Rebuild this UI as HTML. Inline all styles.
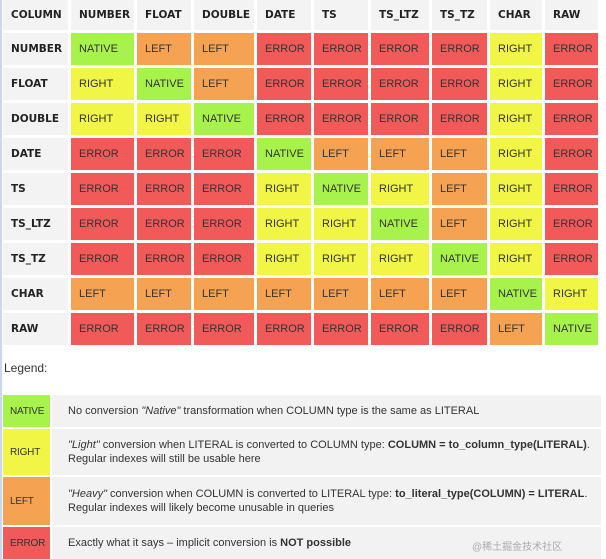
<!DOCTYPE html>
<html><head><meta charset="utf-8"><style>
body{margin:0;width:606px;height:559px;background:#fff;position:relative;overflow:hidden;font-family:"Liberation Sans","DejaVu Sans",sans-serif;}
.c{position:absolute;box-sizing:border-box;font-size:11px;color:#333;display:flex;align-items:center;padding-left:8px;white-space:nowrap;overflow:hidden;}
.h{font-weight:bold;background:#f3f3f3;color:#222;font-family:"DejaVu Sans","Liberation Sans",sans-serif;font-size:10.5px;}
.lt{position:absolute;font-size:11px;color:#333;line-height:14px;box-sizing:border-box;padding-left:16px;background:#f2f2f2;display:flex;flex-direction:column;justify-content:center;}
</style></head><body>
<div style="position:absolute;left:0;top:0;width:2px;height:559px;background:#c8d8ee"></div>
<div id="grid"></div>
<div style="position:absolute;left:4px;top:361px;font-size:12px;color:#333">Legend:</div>
<div id="legend"></div>
<div style="position:absolute;left:472px;top:538px;font-size:10px;color:#aaa;font-family:'Liberation Sans','Noto Sans CJK SC',sans-serif">@稀土掘金技术社区</div>
<script>
const types=["NUMBER","FLOAT","DOUBLE","DATE","TS","TS_LTZ","TS_TZ","CHAR","RAW"];
const matrix=[
["NATIVE","LEFT","LEFT","ERROR","ERROR","ERROR","ERROR","RIGHT","ERROR"],
["RIGHT","NATIVE","LEFT","ERROR","ERROR","ERROR","ERROR","RIGHT","ERROR"],
["RIGHT","RIGHT","NATIVE","ERROR","ERROR","ERROR","ERROR","RIGHT","ERROR"],
["ERROR","ERROR","ERROR","NATIVE","LEFT","LEFT","LEFT","RIGHT","ERROR"],
["ERROR","ERROR","ERROR","RIGHT","NATIVE","RIGHT","LEFT","RIGHT","ERROR"],
["ERROR","ERROR","ERROR","RIGHT","RIGHT","NATIVE","LEFT","RIGHT","ERROR"],
["ERROR","ERROR","ERROR","RIGHT","RIGHT","RIGHT","NATIVE","RIGHT","ERROR"],
["LEFT","LEFT","LEFT","LEFT","LEFT","LEFT","LEFT","NATIVE","RIGHT"],
["ERROR","ERROR","ERROR","ERROR","ERROR","ERROR","ERROR","LEFT","NATIVE"]];
const legendKeys=["NATIVE","RIGHT","LEFT","ERROR"];
const legendText=[
'No conversion <i>"Native"</i> transformation when COLUMN type is the same as LITERAL',
'<i>"Light"</i> conversion when LITERAL is converted to COLUMN type: <b>COLUMN = to_column_type(LITERAL)</b>.<br>Regular indexes will still be usable here',
'<i>"Heavy"</i> conversion when COLUMN is converted to LITERAL type: <b>to_literal_type(COLUMN) = LITERAL</b>.<br>Regular indexes will likely become unusable in queries',
'Exactly what it says – implicit conversion is <b>NOT possible</b>'];
const colors={NATIVE:"#a8f24c",RIGHT:"#f1f545",LEFT:"#f5a352",ERROR:"#f25a5a"};
const colX=[3,71,137,194,257,314,371,432,490,545,601];
const rowY0=33,pitch=35,rowH=32;
const g=document.getElementById('grid');
function cell(x,y,w,h,txt,cls,bg){const d=document.createElement('div');d.className='c '+cls;d.style.cssText+=`left:${x}px;top:${y}px;width:${w}px;height:${h}px;`+(bg?`background:${bg};`:'');d.textContent=txt;g.appendChild(d);return d;}
let hd=cell(colX[0],0,colX[1]-colX[0]-3,30,"COLUMN","h");


types.forEach((t,i)=>{const d=cell(colX[i+1],0,colX[i+2]-colX[i+1]-3,30,t,"h");

});
matrix.forEach((row,r)=>{const y=rowY0+r*pitch;
const l=cell(colX[0],y,colX[1]-colX[0]-3,rowH,types[r],"h");


row.forEach((v,c)=>{const d=cell(colX[c+1],y,colX[c+2]-colX[c+1]-3,rowH,v,"",colors[v]);

});});
const lg=document.getElementById('legend');
const lY=[395,429,477,527],lH=[32,46,48,32];
legendKeys.forEach((k,i)=>{const b=document.createElement('div');b.className='c';
b.style.cssText+=`left:3px;top:${lY[i]}px;width:47px;height:${lH[i]}px;background:${colors[k]};padding-left:7px;font-size:10px;letter-spacing:-0.2px`;
b.textContent=k;


lg.appendChild(b);
const t=document.createElement('div');t.className='lt';
t.style.cssText+=`left:52px;top:${lY[i]}px;width:549px;height:${lH[i]}px;`;
t.innerHTML='<div>'+legendText[i]+'</div>';


lg.appendChild(t);});
</script>
</body></html>
